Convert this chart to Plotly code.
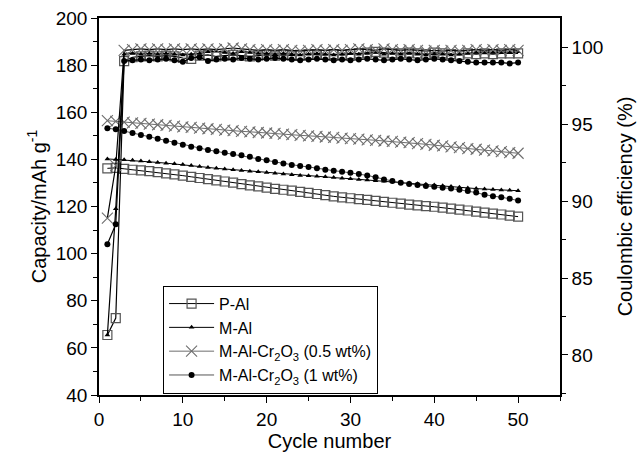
import plotly.graph_objects as go

cycles = list(range(1, 51))

# Discharge capacity (mAh/g)
cap_pal = [136.2, 136.4, 136.0, 135.6, 135.3, 135.0, 134.6, 134.1, 133.6, 133.1,
           132.6, 132.1, 131.6, 131.1, 130.6, 130.1, 129.5, 129.0, 128.5, 128.0,
           127.5, 127.1, 126.7, 126.2, 125.8, 125.3, 124.8, 124.3, 123.9, 123.5,
           123.1, 122.8, 122.4, 122.0, 121.6, 121.2, 120.8, 120.5, 120.2, 119.9,
           119.5, 119.1, 118.7, 118.3, 117.8, 117.4, 117.0, 116.6, 116.1, 115.7]
cap_mal = [140.2, 140.0, 139.8, 139.6, 139.3, 139.0, 138.7, 138.4, 138.1, 137.8,
           137.4, 137.0, 136.6, 136.2, 135.9, 135.6, 135.3, 135.0, 134.7, 134.4,
           134.1, 133.8, 133.5, 133.2, 133.0, 132.8, 132.6, 132.3, 132.0, 131.8,
           131.5, 131.2, 130.9, 130.7, 130.5, 130.3, 130.0, 129.7, 129.4, 129.1,
           128.8, 128.5, 128.2, 127.9, 127.6, 127.4, 127.2, 127.0, 126.9, 126.7]
cap_cr05 = [156.4, 156.1, 155.8, 155.5, 155.3, 155.0, 154.7, 154.4, 154.1, 153.8,
            153.6, 153.3, 153.0, 152.7, 152.4, 152.2, 151.9, 151.7, 151.4, 151.2,
            151.0, 150.7, 150.5, 150.2, 150.0, 149.8, 149.5, 149.3, 149.0, 148.8,
            148.6, 148.3, 148.1, 147.8, 147.6, 147.3, 147.1, 146.7, 146.4, 146.0,
            145.7, 145.3, 145.0, 144.6, 144.3, 143.9, 143.6, 143.3, 142.9, 142.6]
cap_cr1 = [153.2, 152.8, 152.0, 151.2, 150.3, 149.6, 148.8, 147.9, 147.1, 146.2,
           145.4, 144.7, 144.0, 143.4, 142.8, 142.3, 141.7, 141.1, 140.2, 139.6,
           138.9, 138.3, 137.6, 137.2, 136.8, 136.2, 135.6, 135.2, 134.8, 134.3,
           133.8, 133.2, 132.4, 131.5, 130.8, 130.1, 129.5, 129.1, 128.7, 128.4,
           128.0, 127.6, 127.1, 126.6, 125.9, 125.0, 124.3, 123.9, 123.3, 122.5]

# Coulombic efficiency (%)
ce_pal = [81.3, 82.4, 99.1, 99.35, 99.4, 99.45, 99.4, 99.45, 99.4, 99.3,
          99.25, 99.45, 99.5, 99.4, 99.45, 99.5, 99.45, 99.4, 99.45, 99.5,
          99.45, 99.5, 99.45, 99.5, 99.55, 99.5, 99.5, 99.55, 99.5, 99.55,
          99.6, 99.65, 99.7, 99.65, 99.6, 99.6, 99.65, 99.6, 99.55, 99.65,
          99.6, 99.55, 99.5, 99.6, 99.55, 99.6, 99.55, 99.6, 99.6, 99.6]
ce_mal = [81.3, 89.5, 99.55, 99.6, 99.55, 99.6, 99.55, 99.6, 99.55, 99.5,
          99.55, 99.6, 99.7, 99.75, 99.65, 99.6, 99.7, 99.65, 99.6, 99.6,
          99.55, 99.6, 99.55, 99.5, 99.55, 99.6, 99.55, 99.5, 99.55, 99.6,
          99.55, 99.6, 99.65, 99.55, 99.6, 99.55, 99.6, 99.55, 99.5, 99.55,
          99.55, 99.5, 99.55, 99.6, 99.65, 99.7, 99.65, 99.7, 99.65, 99.7]
ce_cr05 = [88.9, 92.3, 99.8, 99.85, 99.9, 99.85, 99.9, 99.85, 99.9, 99.85,
           99.9, 99.85, 99.9, 99.85, 99.9, 99.95, 99.9, 99.85, 99.8, 99.85,
           99.8, 99.85, 99.8, 99.75, 99.8, 99.85, 99.8, 99.85, 99.8, 99.85,
           99.9, 99.85, 99.8, 99.9, 99.85, 99.8, 99.85, 99.8, 99.75, 99.8,
           99.75, 99.8, 99.75, 99.8, 99.85, 99.8, 99.85, 99.8, 99.85, 99.8]
ce_cr1 = [87.2, 88.5, 99.1, 99.15, 99.2, 99.15, 99.2, 99.25, 99.15, 99.05,
          99.3, 99.35, 99.1, 99.2, 99.25, 99.2, 99.3, 99.25, 99.2, 99.25,
          99.3, 99.25, 99.2, 99.15, 99.2, 99.25, 99.2, 99.15, 99.2, 99.15,
          99.2, 99.25, 99.2, 99.15, 99.2, 99.25, 99.2, 99.15, 99.2, 99.25,
          99.2, 99.15, 99.1, 99.05, 99.0, 99.0, 99.0, 99.0, 98.95, 99.0]

names = ["P-Al", "M-Al", "M-Al-Cr<sub>2</sub>O<sub>3</sub> (0.5 wt%)",
         "M-Al-Cr<sub>2</sub>O<sub>3</sub> (1 wt%)"]

styles = [
    dict(marker=dict(symbol="square-open", size=9, color="#555555", line=dict(width=1.2, color="#555555")),
         line=dict(color="black", width=1)),
    dict(marker=dict(symbol="triangle-up", size=5, color="black"),
         line=dict(color="black", width=1)),
    dict(marker=dict(symbol="x-thin-open", size=11, color="#6e6e6e", line=dict(width=1.1, color="#6e6e6e")),
         line=dict(color="#6e6e6e", width=1)),
    dict(marker=dict(symbol="circle", size=6, color="black"),
         line=dict(color="#555555", width=1)),
]

caps = [cap_pal, cap_mal, cap_cr05, cap_cr1]
ces = [ce_pal, ce_mal, ce_cr05, ce_cr1]

fig = go.Figure()
for nm, st, cap in zip(names, styles, caps):
    fig.add_trace(go.Scatter(x=cycles, y=cap, mode="lines+markers", name=nm,
                             marker=st["marker"], line=st["line"], yaxis="y"))
for nm, st, ce in zip(names, styles, ces):
    fig.add_trace(go.Scatter(x=cycles, y=ce, mode="lines+markers", name=nm,
                             marker=st["marker"], line=dict(color="black", width=1.2),
                             yaxis="y2", showlegend=False))

font_fam = "Arial, Liberation Sans, sans-serif"
axis_common = dict(showline=True, linecolor="black", linewidth=1.6, ticks="outside",
                   tickcolor="black", tickwidth=1.2, ticklen=6, showgrid=False,
                   zeroline=False, automargin=False, tickfont=dict(size=19, color="black"))

fig.update_layout(
    width=643, height=455,
    margin=dict(l=99, r=83, t=18, b=60),
    paper_bgcolor="white", plot_bgcolor="white",
    font=dict(family=font_fam, color="black"),
    showlegend=True,
    legend=dict(x=0.139, y=0.29, xanchor="left", yanchor="top",
                bgcolor="white", bordercolor="black", borderwidth=1,
                font=dict(size=16, color="black"), itemwidth=45,
                tracegroupgap=0),
    xaxis=dict(range=[0, 55], tick0=0, dtick=10, mirror=True,
               minor=dict(dtick=5, ticklen=4, tickcolor="black", ticks="outside"),
               title=dict(text="Cycle number", font=dict(size=20), standoff=4),
               **axis_common),
    yaxis=dict(range=[40, 200], tick0=40, dtick=20,
               minor=dict(dtick=10, ticklen=4, tickcolor="black", ticks="outside"),
               title=dict(text="Capacity/mAh g<sup>-1</sup>", font=dict(size=20), standoff=4),
               **axis_common),
    yaxis2=dict(range=[77.4, 101.9], overlaying="y", side="right",
                tickvals=[80, 85, 90, 95, 100],
                minor=dict(dtick=2.5, tick0=0, ticklen=4, tickcolor="black", ticks="outside"),
                title=dict(text="Coulombic efficiency (%)", font=dict(size=20), standoff=16),
                **axis_common),
)

fig.write_html("out.html")
